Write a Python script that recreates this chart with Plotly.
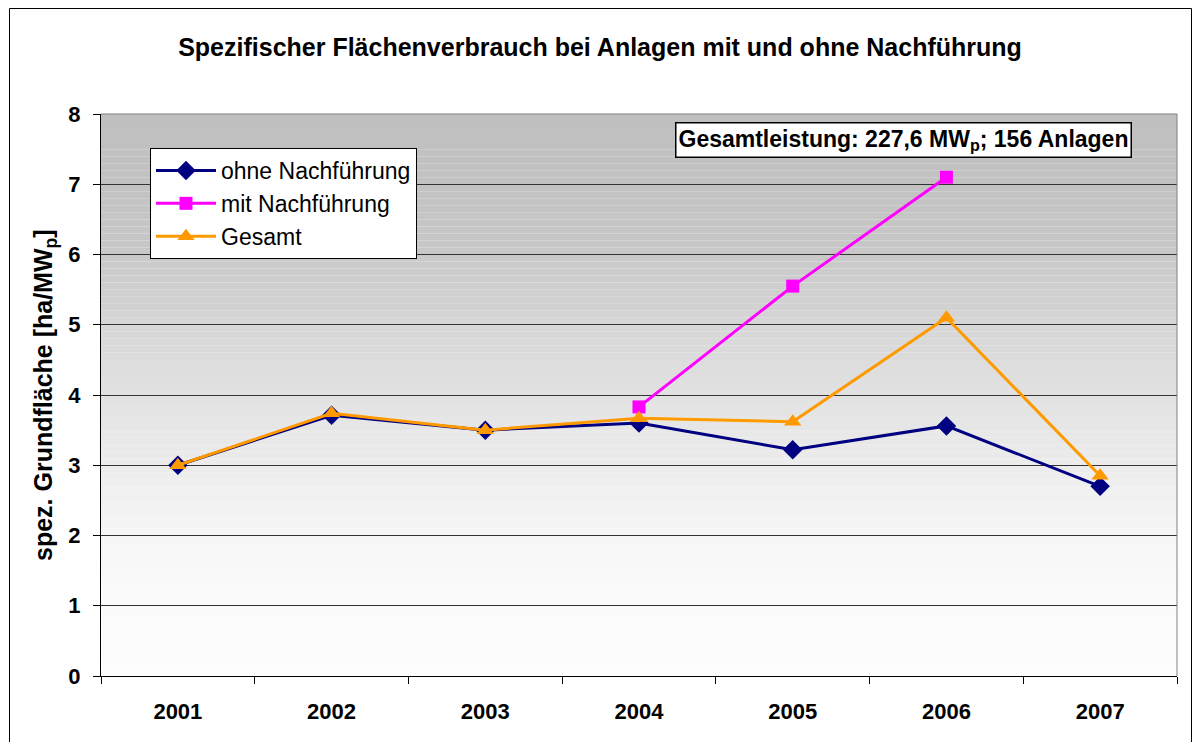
import plotly.graph_objects as go

years = ["2001", "2002", "2003", "2004", "2005", "2006", "2007"]
ohne = [3.0, 3.71, 3.5, 3.6, 3.22, 3.56, 2.7]
mit = [None, None, None, 3.83, 5.55, 7.1, None]
gesamt = [3.0, 3.74, 3.5, 3.67, 3.62, 5.1, 2.85]
y_ticks = [0, 1, 2, 3, 4, 5, 6, 7, 8]

W, H = 1200, 742
OFF = 8  # page body margin offset
L, R, T, B = 101 - OFF, 23 + OFF, 114 - OFF, 66 + OFF
pw, ph = W - L - R, H - T - B

def px_x(sx):
    return (sx - OFF - L) / pw

def px_y(sy):
    return (H - B - (sy - OFF)) / ph

FONT = "Liberation Sans, Arial, sans-serif"

fig = go.Figure()
fig.add_trace(go.Scatter(x=years, y=ohne, name="ohne Nachführung", mode="lines+markers",
                         line=dict(color="#000080", width=3),
                         marker=dict(symbol="diamond", size=15, color="#000080")))
fig.add_trace(go.Scatter(x=years, y=mit, name="mit Nachführung", mode="lines+markers",
                         line=dict(color="#FF00FF", width=3),
                         marker=dict(symbol="square", size=13, color="#FF00FF")))
fig.add_trace(go.Scatter(x=years, y=gesamt, name="Gesamt", mode="lines+markers",
                         line=dict(color="#FF9900", width=3),
                         marker=dict(symbol="triangle-up", size=15, color="#FF9900")))

# gradient background bands
stops = [(0.0, 253), (0.125, 251), (0.25, 246), (0.375, 236), (0.5, 226), (0.625, 214), (0.75, 200), (0.875, 194), (1.0, 191)]
def grey_at(t):
    for (t0, g0), (t1, g1) in zip(stops[:-1], stops[1:]):
        if t0 <= t <= t1:
            return g0 + (g1 - g0) * (t - t0) / (t1 - t0)
    return stops[-1][1]

n = 80
shapes = []
for i in range(n):
    t0, t1 = i / n, (i + 1) / n
    g = int(round(grey_at((t0 + t1) / 2)))
    shapes.append(dict(type="rect", xref="x domain", yref="y domain", x0=0, x1=1, y0=t0, y1=t1,
                       fillcolor=f"rgb({g},{g},{g})", line=dict(width=0), layer="below"))
# plot area border (right/top)
shapes.append(dict(type="line", xref="x domain", yref="y domain", x0=1, x1=1, y0=0, y1=1,
                   line=dict(color="#808080", width=1)))
shapes.append(dict(type="line", xref="x domain", yref="y domain", x0=0, x1=1, y0=1, y1=1,
                   line=dict(color="#808080", width=1)))
# outer chart border
shapes.append(dict(type="rect", xref="paper", yref="paper", x0=px_x(9.5), x1=px_x(1191.5),
                   y0=px_y(770), y1=px_y(8.5), line=dict(color="black", width=1),
                   fillcolor="rgba(0,0,0,0)", layer="above"))

fig.update_layout(
    width=W, height=H,
    margin=dict(l=L, r=R, t=T, b=B),
    paper_bgcolor="white",
    plot_bgcolor="white",
    font=dict(family=FONT, color="black"),
    title=dict(text="<b>Spezifischer Flächenverbrauch bei Anlagen mit und ohne Nachführung</b>",
               x=px_x(600), xref="paper", xanchor="center", y=1 - (47 - OFF) / H, yanchor="middle",
               font=dict(size=25, color="black", family=FONT)),
    shapes=shapes,
    showlegend=True,
    legend=dict(x=px_x(150), y=px_y(148), xanchor="left", yanchor="top",
                bgcolor="white", bordercolor="black", borderwidth=1,
                font=dict(size=23, color="black", family=FONT), tracegroupgap=0,
                itemwidth=60),
    xaxis=dict(type="category", categoryorder="array", categoryarray=years,
               range=[-0.5, 6.5], autorange=False,
               tickson="boundaries", ticks="outside", ticklen=7, tickcolor="black",
               showline=True, linecolor="black", linewidth=1, showgrid=False,
               tickfont=dict(size=22, color="black", family=FONT, weight="bold"),
               ticklabelstandoff=16),
    yaxis=dict(range=[0, 8], tickvals=y_ticks, ticks="outside", ticklen=7, tickcolor="black",
               showline=True, linecolor="black", linewidth=1,
               showgrid=True, gridcolor="#333333", gridwidth=1, zeroline=False,
               tickfont=dict(size=22, color="black", family=FONT, weight="bold"),
               ticklabelstandoff=8),
    annotations=[
        dict(text="<b>Gesamtleistung: 227,6 MW<sub>p</sub>; 156 Anlagen</b>",
             xref="paper", yref="paper", x=px_x(903.5), y=px_y(140),
             xanchor="center", yanchor="middle", showarrow=False,
             font=dict(size=23, color="black", family=FONT), bgcolor="white",
             bordercolor="black", borderwidth=1.5, borderpad=2),
        dict(text="<b>spez. Grundfläche [ha/MW<sub>p</sub>]</b>",
             xref="paper", yref="paper", x=px_x(45), y=px_y(395),
             xanchor="center", yanchor="middle", showarrow=False, textangle=-90,
             font=dict(size=25, color="black", family=FONT)),
    ],
)

fig.write_html("out.html")
